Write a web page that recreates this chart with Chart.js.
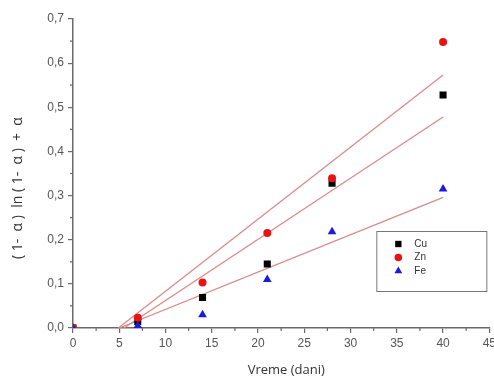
<!DOCTYPE html>
<html lang="en">
<head>
    <meta charset="UTF-8">
    <title>Vreme (dani)</title>
    <script src="https://cdn.jsdelivr.net/npm/chart.js@4.4.0/dist/chart.umd.min.js"></script>
    <style>
        body {
            margin: 0;
            background-color: white;
            overflow: hidden;
        }
        .chart-box {
            width: 494px;
            height: 381px;
            overflow: hidden;
        }
    </style>
</head>
<body>
    <div class="chart-box">
        <canvas id="kinChart" width="499" height="381"></canvas>
    </div>

    <script>
        const days = [0, 7, 14, 21, 28, 40];
        const cu = [0, 0.015, 0.069, 0.145, 0.328, 0.528];
        const zn = [0, 0.023, 0.103, 0.215, 0.339, 0.648];
        const fe = [0, 0.005, 0.030, 0.110, 0.218, 0.315];

        // fitted lines: start and end points
        const fitZnX = [4.9, 40];
        const fitZnY = [0, 0.573];
        const fitCuX = [5.5, 40];
        const fitCuY = [0, 0.478];
        const fitFeX = [5.0, 40];
        const fitFeY = [0, 0.296];

        const xTicks = [0, 5, 10, 15, 20, 25, 30, 35, 40, 45];
        const yTicks = [0, 0.1, 0.2, 0.3, 0.4, 0.5, 0.6, 0.7];

        const axisColor = '#6a6a6a';
        const fitColor = '#d98b8b';

        function pts(xs, ys) {
            return xs.map((x, i) => ({ x: x, y: ys[i] }));
        }

        function fitLine(xs, ys) {
            return {
                label: 'fit',
                data: pts(xs, ys),
                showLine: true,
                borderColor: fitColor,
                borderWidth: 1.3,
                pointRadius: 0,
                order: 10
            };
        }

        // small minor ticks between the labelled ones
        const minorTicks = {
            id: 'minorTicks',
            afterDraw(chart) {
                const ctx = chart.ctx;
                const xs = chart.scales.x;
                const ys = chart.scales.y;
                ctx.save();
                ctx.strokeStyle = axisColor;
                ctx.lineWidth = 1.2;
                ctx.beginPath();
                for (let v = 2.5; v < 45; v += 5) {
                    const px = xs.getPixelForValue(v);
                    ctx.moveTo(px, ys.bottom);
                    ctx.lineTo(px, ys.bottom + 3);
                }
                for (let v = 0.05; v < 0.7; v += 0.1) {
                    const py = ys.getPixelForValue(v);
                    ctx.moveTo(xs.left, py);
                    ctx.lineTo(xs.left - 3, py);
                }
                ctx.stroke();
                ctx.restore();
            }
        };

        // framed legend inside the plot area
        const boxLegend = {
            id: 'boxLegend',
            afterDraw(chart) {
                const ctx = chart.ctx;
                const a = chart.chartArea;
                const left = a.right - 113;
                const top = a.top + 212;
                ctx.save();
                ctx.fillStyle = 'white';
                ctx.strokeStyle = '#777';
                ctx.lineWidth = 1;
                ctx.fillRect(left, top, 110, 60);
                ctx.strokeRect(left + 0.5, top + 0.5, 110, 60);
                const items = [
                    { text: 'Cu', style: 'rect', color: '#000000', r: 4.5 },
                    { text: 'Zn', style: 'circle', color: '#e81414', r: 3.8 },
                    { text: 'Fe', style: 'triangle', color: '#1a1ae0', r: 4.5 }
                ];
                ctx.font = '10px "Liberation Sans", Arial, sans-serif';
                ctx.textBaseline = 'middle';
                items.forEach((it, i) => {
                    const cy = top + 13 + i * 13.5;
                    ctx.fillStyle = it.color;
                    ctx.strokeStyle = it.color;
                    Chart.helpers.drawPoint(ctx, { pointStyle: it.style, radius: it.r, borderWidth: 0 }, left + 22, cy);
                    ctx.fillStyle = '#333';
                    ctx.fillText(it.text, left + 38, cy);
                });
                ctx.restore();
            }
        };

        const ctx = document.getElementById('kinChart').getContext('2d');
        new Chart(ctx, {
            type: 'scatter',
            data: {
                datasets: [
                    fitLine(fitZnX, fitZnY),
                    fitLine(fitCuX, fitCuY),
                    fitLine(fitFeX, fitFeY),
                    {
                        label: 'Cu',
                        data: pts(days, cu),
                        pointStyle: 'rect',
                        pointRadius: 5,
                        backgroundColor: '#000000',
                        borderWidth: 0,
                        order: 3
                    },
                    {
                        label: 'Zn',
                        data: pts(days, zn),
                        pointStyle: 'circle',
                        pointRadius: 4,
                        backgroundColor: '#e81414',
                        borderWidth: 0,
                        order: 2
                    },
                    {
                        label: 'Fe',
                        data: pts(days, fe),
                        pointStyle: 'triangle',
                        pointRadius: 5,
                        backgroundColor: '#1a1ae0',
                        borderWidth: 0,
                        order: 1
                    }
                ]
            },
            options: {
                responsive: false,
                animation: false,
                layout: {
                    padding: { top: 19, right: 2, left: 0, bottom: 0 }
                },
                plugins: {
                    legend: { display: false },
                    tooltip: { enabled: false }
                },
                scales: {
                    x: {
                        type: 'linear',
                        min: 0,
                        max: 45,
                        afterBuildTicks: (scale) => {
                            scale.ticks = xTicks.map(v => ({ value: v }));
                        },
                        afterFit: (scale) => {
                            scale.height = 53;
                        },
                        grid: {
                            drawOnChartArea: false,
                            drawTicks: true,
                            tickLength: 5,
                            color: axisColor,
                            lineWidth: 1.2
                        },
                        border: { color: axisColor, width: 1.5 },
                        ticks: {
                            color: '#555',
                            padding: 3,
                            maxRotation: 0,
                            font: { family: '"Liberation Sans", Arial, sans-serif', size: 12 }
                        },
                        title: {
                            display: true,
                            text: '   Vreme (dani)',
                            color: '#333',
                            padding: { top: 0, bottom: 3 },
                            font: { family: '"Open Sans", "Liberation Sans", sans-serif', size: 13 }
                        }
                    },
                    y: {
                        min: 0,
                        max: 0.7,
                        afterBuildTicks: (scale) => {
                            scale.ticks = yTicks.map(v => ({ value: v }));
                        },
                        afterFit: (scale) => {
                            scale.width = 73;
                        },
                        grid: {
                            drawOnChartArea: false,
                            drawTicks: true,
                            tickLength: 5,
                            color: axisColor,
                            lineWidth: 1.2
                        },
                        border: { color: axisColor, width: 1.5 },
                        ticks: {
                            color: '#555',
                            padding: 4,
                            font: { family: '"Liberation Sans", Arial, sans-serif', size: 12 },
                            callback: (v) => v.toFixed(1).replace('.', ',')
                        },
                        title: {
                            display: true,
                            text: '( 1-  α )  ln ( 1-  α )  +  α        ',
                            color: '#333',
                            padding: { top: 10, bottom: 0 },
                            font: { family: '"Open Sans", "Liberation Sans", sans-serif', size: 14 }
                        }
                    }
                }
            },
            plugins: [minorTicks, boxLegend]
        });
    </script>
</body>
</html>
